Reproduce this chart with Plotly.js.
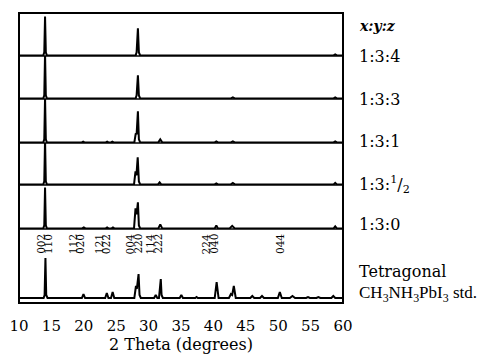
<!DOCTYPE html>
<html>
<head>
<meta charset="utf-8">
<script src="https://cdn.plot.ly/plotly-3.0.1.min.js"></script>
<style>html,body{margin:0;padding:0;background:#fff;}#chart{width:483px;height:354px;}</style>
</head>
<body>
<div id="chart"></div>
<script>
// 2-theta tick labels
const tickVals = [10, 15, 20, 25, 30, 35, 40, 45, 50, 55, 60];
const tickText = ["10", "15", "20", "25", "30", "35", "40", "45", "50", "55", "60"];

// Sample names (top to bottom)
const sampleNames = ["1:3:4", "1:3:3", "1:3:1", "1:3:<sup>1</sup>/<sub>2</sub>", "1:3:0"];

// Pattern 1:3:4
const tt134 = [10, 13.75, 13.9, 14.02, 14.14, 14.3, 28.0, 28.15, 28.35, 28.5, 28.7, 58.55, 58.8, 59.05, 60];
const I134  = [0, 0, 3, 39, 3, 0, 0, 3, 27, 3, 0, 0, 1, 0, 0];

// Pattern 1:3:3
const tt133 = [10, 13.75, 13.9, 14.02, 14.14, 14.3, 28.0, 28.15, 28.35, 28.5, 28.7, 42.7, 43.0, 43.3, 58.55, 58.8, 59.05, 60];
const I133  = [0, 0, 3, 45, 3, 0, 0, 3, 23, 3, 0, 0, 1, 0, 0, 1, 0, 0];

// Pattern 1:3:1
const tt131 = [10, 13.75, 13.9, 14.02, 14.14, 14.3, 19.7, 19.9, 20.1, 23.4, 23.6, 23.8, 24.2, 24.4, 24.6,
               27.8, 28.02, 28.15, 28.35, 28.5, 28.7, 31.5, 31.8, 32.1, 40.2, 40.45, 40.7, 42.7, 43.0, 43.3, 58.55, 58.8, 59.05, 60];
const I131  = [0, 0, 3, 45, 3, 0, 0, 0.8, 0, 0, 0.8, 0, 0, 0.8, 0,
               0, 9, 8, 31, 3, 0, 0, 3, 0, 0, 1, 0, 0, 1, 0, 0, 1, 0, 0];

// Pattern 1:3:1/2
const tt1312 = [10, 13.75, 13.9, 14.02, 14.14, 14.3, 27.75, 27.98, 28.12, 28.32, 28.5, 28.7,
                31.45, 31.7, 31.95, 40.2, 40.45, 40.7, 42.7, 43.0, 43.3, 58.55, 58.8, 59.05, 60];
const I1312  = [0, 0, 3, 45, 3, 0, 0, 13, 9, 27, 3, 0,
                0, 2, 0, 0, 1, 0, 0, 1.5, 0, 0, 1.5, 0, 0];

// Pattern 1:3:0
const tt130 = [10, 13.75, 13.9, 14.02, 14.14, 14.3, 19.75, 20.0, 20.25, 23.4, 23.6, 23.8, 24.3, 24.5, 24.7,
               27.75, 27.98, 28.15, 28.35, 28.5, 28.7, 31.5, 31.8, 32.1, 40.2, 40.45, 40.7, 42.5, 42.9, 43.3, 58.55, 58.8, 59.05, 60];
const I130  = [0, 0, 3, 41, 3, 0, 0, 1, 0, 0, 1, 0, 0, 1, 0,
               0, 20, 14, 26, 3, 0, 0, 4, 0, 0, 3, 0, 0, 2.5, 0, 0, 2, 0, 0];

// Tetragonal CH3NH3PbI3 standard
const ttStd = [10, 13.8, 13.95, 14.08, 14.2, 14.4, 19.7, 19.95, 20.2, 23.3, 23.55, 23.8, 24.2, 24.45, 24.7,
               27.8, 28.05, 28.18, 28.45, 28.6, 28.8, 30.85, 31.1, 31.35, 31.6, 31.75, 31.88, 32.0, 32.2,
               34.8, 35.05, 35.3, 37.2, 37.4, 37.6, 40.2, 40.5, 40.8, 42.4, 42.7, 42.9, 43.15, 43.45,
               45.7, 46.0, 46.3, 47.2, 47.5, 47.8, 49.95, 50.25, 50.55, 51.8, 52.2, 52.6, 54.3, 54.6, 54.9,
               55.9, 56.2, 56.5, 58.2, 58.5, 58.8, 60];
const IStd  = [0, 0, 3, 40, 3, 0, 0, 4, 0, 0, 5, 0, 0, 6, 0,
               0, 12, 9, 24, 3, 0, 0, 3, 0, 0, 10, 19, 3, 0,
               0, 3, 0, 0, 1, 0, 0, 16, 0, 0, 4, 3, 12, 0,
               0, 2, 0, 0, 2, 0, 0, 6, 0, 0, 2, 0, 0, 1, 0,
               0, 1, 0, 0, 2, 0, 0];

// Miller index labels (first line, second line)
const hklPos   = [13.93, 18.87, 22.89, 27.75, 30.83, 39.48, 50.28];
const hklLine1 = ["002", "112", "121", "004", "114", "224", "044"];
const hklLine2 = ["110", "020", "022", "220", "222", "040", ""];

const patterns = [
  {x: ttStd, y: IStd, ax: "y"},
  {x: tt130, y: I130, ax: "y2"},
  {x: tt1312, y: I1312, ax: "y3"},
  {x: tt131, y: I131, ax: "y4"},
  {x: tt133, y: I133, ax: "y5"},
  {x: tt134, y: I134, ax: "y6"}
];

const traces = patterns.map(p => ({
  x: p.x, y: p.y, xaxis: "x", yaxis: p.ax, type: "scatter", mode: "lines",
  line: {color: "#000", width: 2}, hoverinfo: "skip", showlegend: false
}));

// panel boundaries (paper fractions, bottom to top)
const bounds = [0, 0.25517, 0.40690, 0.55172, 0.70345, 0.85172, 1];
const plotH = 290;

function yax(i, base) {
  const h = (bounds[i + 1] - bounds[i]) * plotH;
  return {domain: [bounds[i], bounds[i + 1]], range: [base, base + h], visible: false, fixedrange: true};
}

const serif = "DejaVu Serif";
const annotations = [];

hklPos.forEach((xp, i) => {
  const two = hklLine2[i] !== "";
  annotations.push({x: xp, y: 54, xref: "x", yref: "y", text: hklLine1[i], showarrow: false,
    textangle: -90, xshift: two ? -3.6 : 0, font: {family: serif, size: 10.5, color: "#000"}});
  if (two) annotations.push({x: xp, y: 54, xref: "x", yref: "y", text: hklLine2[i], showarrow: false,
    textangle: -90, xshift: 3.6, font: {family: serif, size: 10.5, color: "#000"}});
});

const lx = 1.043;
const labelY = [0.8483, 0.7034, 0.5552, 0.4069, 0.2690];
annotations.push({x: lx, y: 0.955, xref: "paper", yref: "paper", xanchor: "left", yanchor: "middle",
  text: "<b><i>x:y:z</i></b>", showarrow: false, font: {family: serif, size: 14, color: "#000"}});
sampleNames.forEach((n, i) => {
  annotations.push({x: lx, y: labelY[i], xref: "paper", yref: "paper", xanchor: "left", yanchor: "middle",
    text: n, showarrow: false, font: {family: serif, size: 16, color: "#000"}});
});
annotations.push({x: lx, y: 0.1103, xref: "paper", yref: "paper", xanchor: "left", yanchor: "middle",
  text: "Tetragonal", showarrow: false, font: {family: serif, size: 16, color: "#000"}});
annotations.push({x: lx, y: 0.0310, xref: "paper", yref: "paper", xanchor: "left", yanchor: "middle",
  text: "CH<sub>3</sub>NH<sub>3</sub>PbI<sub>3</sub> std.", showarrow: false,
  font: {family: "Liberation Serif", size: 17, color: "#000"}});

const shapes = [{type: "rect", xref: "paper", yref: "paper", x0: 0, x1: 1, y0: 0, y1: 1,
  line: {color: "#000", width: 2}}];
for (let i = 1; i < bounds.length - 1; i++) {
  shapes.push({type: "line", xref: "paper", yref: "paper", x0: 0, x1: 1, y0: bounds[i], y1: bounds[i],
    line: {color: "#000", width: 1.4}});
}

const layout = {
  width: 483, height: 354,
  margin: {l: 19, r: 140, t: 13, b: 51},
  paper_bgcolor: "#fff", plot_bgcolor: "#fff",
  showlegend: false,
  xaxis: {anchor: "y", range: [10, 60], tickvals: tickVals, ticktext: tickText, ticks: "",
    showgrid: false, zeroline: false, showline: false, fixedrange: true, ticklabelstandoff: 12,
    tickfont: {family: serif, size: 15, color: "#000"},
    title: {text: "2 Theta (degrees)", standoff: 2, font: {family: serif, size: 16, color: "#000"}}},
  yaxis: yax(0, -5),
  yaxis2: yax(1, -0.6),
  yaxis3: yax(2, -0.6),
  yaxis4: yax(3, -0.6),
  yaxis5: yax(4, -0.6),
  yaxis6: yax(5, -0.6),
  annotations: annotations,
  shapes: shapes
};

Plotly.newPlot("chart", traces, layout, {displayModeBar: false, staticPlot: true});
</script>
</body>
</html>
